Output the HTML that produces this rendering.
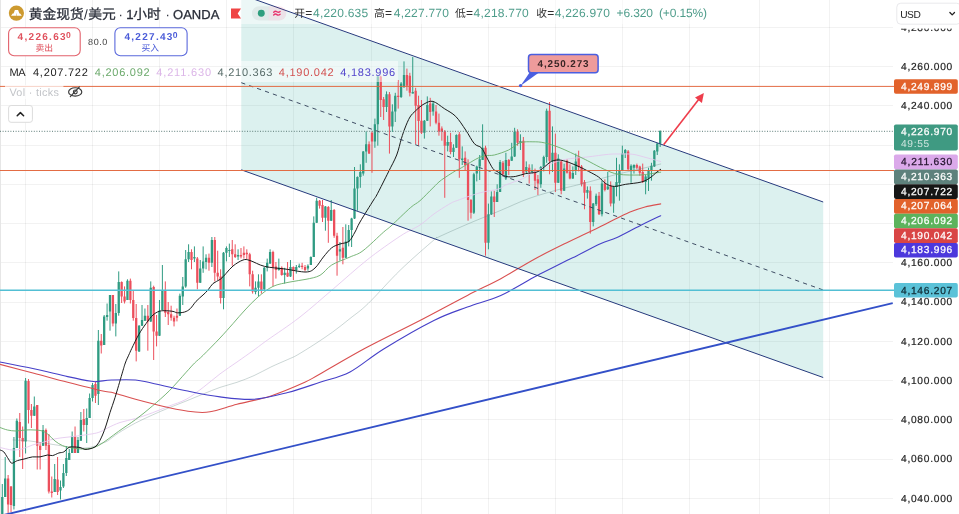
<!DOCTYPE html><html><head><meta charset="utf-8"><title>chart</title>
<style>html,body{margin:0;padding:0;background:#fff;overflow:hidden}svg{display:block;transform:translateZ(0);will-change:transform}text{font-family:"Liberation Sans", "Noto Sans CJK SC", sans-serif;text-rendering:geometricPrecision;}</style></head><body>
<svg width="959" height="514" viewBox="0 0 959 514">
<rect width="959" height="514" fill="#fff"/>
<g stroke="#000" stroke-opacity="0.05" stroke-width="1" shape-rendering="crispEdges">
<line x1="25.6" y1="0" x2="25.6" y2="514"/>
<line x1="92.6" y1="0" x2="92.6" y2="514"/>
<line x1="159.7" y1="0" x2="159.7" y2="514"/>
<line x1="226.6" y1="0" x2="226.6" y2="514"/>
<line x1="293.8" y1="0" x2="293.8" y2="514"/>
<line x1="371.7" y1="0" x2="371.7" y2="514"/>
<line x1="421.6" y1="0" x2="421.6" y2="514"/>
<line x1="488.7" y1="0" x2="488.7" y2="514"/>
<line x1="555.8" y1="0" x2="555.8" y2="514"/>
<line x1="622.7" y1="0" x2="622.7" y2="514"/>
<line x1="689.6" y1="0" x2="689.6" y2="514"/>
<line x1="759" y1="0" x2="759" y2="514"/>
<line x1="829.2" y1="0" x2="829.2" y2="514"/>
<line x1="0" y1="498.4" x2="893" y2="498.4"/>
<line x1="0" y1="459.1" x2="893" y2="459.1"/>
<line x1="0" y1="419.9" x2="893" y2="419.9"/>
<line x1="0" y1="380.6" x2="893" y2="380.6"/>
<line x1="0" y1="341.4" x2="893" y2="341.4"/>
<line x1="0" y1="302.1" x2="893" y2="302.1"/>
<line x1="0" y1="262.9" x2="893" y2="262.9"/>
<line x1="0" y1="223.6" x2="893" y2="223.6"/>
<line x1="0" y1="184.4" x2="893" y2="184.4"/>
<line x1="0" y1="145.1" x2="893" y2="145.1"/>
<line x1="0" y1="105.9" x2="893" y2="105.9"/>
<line x1="0" y1="66.6" x2="893" y2="66.6"/>
<line x1="0" y1="27.4" x2="893" y2="27.4"/>
</g>
<rect x="0" y="0" width="1" height="514" fill="#e6e6e6"/>
<polygon points="241.25,0 255,0 823.2,202.0 823.2,377.5 241.25,169.8" fill="#26a69a" fill-opacity="0.16"/>
<path d="M2.29,484.0V514.0M5.20,457.0V497.0M13.93,437.0V509.5M16.84,418.5V448.0M25.58,378.0V453.5M34.31,396.5V416.0M43.04,425.0V446.0M54.69,464.0V492.0M60.51,480.5V499.5M63.42,464.0V488.0M66.33,446.0V476.0M69.24,449.0V460.0M72.15,431.5V453.0M77.98,437.0V453.0M80.89,412.0V440.7M86.71,408.5V443.0M89.62,393.5V418.0M92.53,383.0V401.5M98.35,330.0V405.0M104.17,315.0V345.0M107.09,303.5V320.7M110.00,295.0V330.7M115.82,304.0V336.4M118.73,271.4V315.7M127.46,279.3V300.0M139.11,325.0V352.0M142.02,305.0V326.0M144.93,308.5V321.0M150.75,281.4V322.0M159.48,300.0V336.0M162.39,265.0V310.0M179.86,293.6V316.0M182.77,277.0V305.0M185.68,250.0V287.8M188.59,244.3V262.0M194.41,246.4V262.0M200.24,260.0V283.0M203.15,246.4V272.8M206.06,254.3V269.3M211.88,237.0V267.0M223.52,252.0V309.3M226.44,246.4V261.4M229.35,243.6V257.0M238.08,249.3V260.0M255.55,281.4V294.3M258.46,274.3V296.4M264.28,267.0V290.0M267.19,258.6V271.4M270.10,249.3V264.0M278.83,258.6V270.7M284.66,267.8V283.6M290.48,260.0V277.0M296.30,265.0V273.6M299.21,263.6V268.0M307.94,264.3V270.7M310.86,256.4V265.0M313.77,216.4V257.0M316.68,197.8V223.0M325.41,206.0V230.7M331.23,200.0V221.0M339.96,242.0V260.7M345.79,224.3V258.0M348.70,225.0V246.4M351.61,217.8V247.0M354.52,167.0V219.0M357.43,176.4V210.7M360.34,164.3V187.8M363.25,151.0V175.7M366.16,131.4V162.8M374.90,118.6V147.8M377.81,76.0V145.7M386.54,91.4V112.0M392.36,104.3V132.0M395.27,92.8V122.0M401.10,82.0V98.0M404.01,61.4V88.0M412.74,57.0V93.6M424.38,120.0V138.6M427.30,96.4V121.0M433.12,101.4V115.7M447.67,135.7V151.4M453.49,144.3V157.0M456.40,134.3V148.0M462.23,146.4V165.0M473.87,172.8V214.0M476.78,165.7V181.4M479.69,155.0V180.0M482.60,124.3V160.0M488.43,203.6V249.3M491.34,191.4V215.0M497.16,184.3V202.0M500.07,160.0V192.0M505.89,152.8V180.0M511.71,142.8V161.0M514.62,127.8V157.0M520.45,134.3V150.0M526.27,161.4V173.0M532.09,164.3V173.6M540.82,166.0V187.8M543.74,155.7V171.4M546.65,108.6V162.8M552.47,126.4V172.0M558.29,154.3V183.0M564.11,163.6V191.0M572.85,166.4V179.0M575.76,153.6V175.0M587.40,186.4V198.6M593.22,203.0V226.4M596.13,193.6V206.0M601.96,180.5V216.4M607.78,172.0V190.0M613.60,186.0V212.8M616.51,157.8V196.4M619.42,164.3V200.7M622.33,145.7V171.0M625.24,149.0V158.0M631.07,164.3V182.8M633.98,164.3V173.6M645.62,175.0V194.3M648.53,167.8V191.0M651.44,162.8V180.7M654.35,150.0V167.0M657.26,143.0V155.0M660.18,130.7V147.0" stroke="#2f9b82" stroke-width="1" fill="none"/>
<path d="M8.11,475.0V513.0M11.02,486.0V512.0M19.75,413.0V457.0M22.67,426.5V469.0M28.49,379.0V423.5M31.40,404.0V428.0M37.22,405.0V469.5M40.13,442.0V469.5M45.95,428.5V450.0M48.87,434.0V493.5M51.78,476.5V497.5M57.60,457.0V495.0M75.06,426.5V453.0M83.80,409.0V431.5M95.44,381.5V403.0M101.26,334.0V353.5M112.91,295.0V326.4M121.64,281.4V303.0M124.55,286.4V303.5M130.37,278.6V303.5M133.28,290.0V320.7M136.19,304.0V361.4M147.84,305.0V350.7M153.66,285.7V360.0M156.57,315.0V346.4M165.30,281.4V317.0M168.22,302.0V325.0M171.13,305.7V320.7M174.04,315.7V326.4M176.95,308.5V321.4M191.50,249.3V269.3M197.33,257.0V289.3M208.97,253.6V270.7M214.79,237.0V281.4M217.70,250.7V280.0M220.61,269.3V303.5M232.26,240.0V265.7M235.17,244.3V258.0M240.99,248.0V258.4M243.90,246.4V258.6M246.81,249.3V259.3M249.72,252.8V286.4M252.63,270.7V293.6M261.37,274.3V293.6M273.01,250.7V286.4M275.92,262.0V278.6M281.75,266.4V275.7M287.57,262.0V277.0M293.39,266.4V280.0M302.12,262.8V269.3M305.03,265.0V271.4M319.59,200.0V208.6M322.50,200.0V222.0M328.32,206.0V242.8M334.14,209.0V237.8M337.05,232.8V275.7M342.88,227.0V264.3M369.07,141.4V154.0M371.99,131.4V172.8M380.72,75.7V117.0M383.63,97.0V120.0M389.45,92.0V153.6M398.19,80.0V108.6M406.92,68.6V90.7M409.83,72.8V96.4M415.65,87.8V144.3M418.56,95.7V145.7M421.47,100.0V134.0M430.21,97.8V126.4M436.03,105.0V124.3M438.94,113.6V135.7M441.85,126.4V140.7M444.76,130.0V197.8M450.58,132.8V154.3M459.32,132.0V177.8M465.14,151.4V170.0M468.05,159.3V220.7M470.96,199.0V218.6M485.51,145.7V255.7M494.25,190.7V217.0M502.98,161.0V176.4M508.80,159.0V175.0M517.54,129.3V145.7M523.36,137.0V177.0M529.18,164.3V183.6M535.00,168.6V190.0M537.91,175.0V195.0M549.56,102.0V174.3M555.38,133.6V192.0M561.20,160.0V194.3M567.02,159.3V173.6M569.93,164.3V179.3M578.67,150.7V171.4M581.58,165.0V186.4M584.49,180.0V209.3M590.31,186.4V233.6M599.04,192.0V215.0M604.87,179.3V191.4M610.69,181.4V206.4M628.15,150.0V170.0M636.89,163.6V169.3M639.80,165.7V175.7M642.71,163.6V183.0" stroke="#ec4f5c" stroke-width="1" fill="none"/>
<path d="M1.14,497.0h2.3V514.0h-2.3zM4.05,478.5h2.3V497.0h-2.3zM12.78,448.0h2.3V506.0h-2.3zM15.69,420.7h2.3V448.0h-2.3zM24.43,380.7h2.3V441.5h-2.3zM33.16,406.5h2.3V415.7h-2.3zM41.89,430.0h2.3V445.7h-2.3zM53.54,479.0h2.3V492.0h-2.3zM59.36,487.0h2.3V490.5h-2.3zM62.27,473.0h2.3V486.5h-2.3zM65.18,458.0h2.3V473.0h-2.3zM68.09,453.0h2.3V460.0h-2.3zM71.00,436.5h2.3V453.0h-2.3zM76.83,440.0h2.3V453.0h-2.3zM79.74,420.0h2.3V440.7h-2.3zM85.56,418.0h2.3V425.0h-2.3zM88.47,398.0h2.3V418.0h-2.3zM91.38,385.0h2.3V398.0h-2.3zM97.20,340.7h2.3V394.0h-2.3zM103.02,316.4h2.3V345.0h-2.3zM105.94,315.0h2.3V317.0h-2.3zM108.85,295.0h2.3V311.4h-2.3zM114.67,313.0h2.3V323.5h-2.3zM117.58,282.0h2.3V313.0h-2.3zM126.31,280.7h2.3V300.0h-2.3zM137.96,325.7h2.3V351.4h-2.3zM140.87,320.0h2.3V325.7h-2.3zM143.78,315.7h2.3V320.7h-2.3zM149.60,287.8h2.3V321.4h-2.3zM158.33,310.7h2.3V335.7h-2.3zM161.24,290.0h2.3V310.0h-2.3zM178.71,295.7h2.3V315.7h-2.3zM181.62,286.4h2.3V296.4h-2.3zM184.53,259.3h2.3V286.4h-2.3zM187.44,252.0h2.3V259.3h-2.3zM193.26,257.0h2.3V258.6h-2.3zM199.09,268.6h2.3V282.8h-2.3zM202.00,261.4h2.3V268.6h-2.3zM204.91,257.8h2.3V262.0h-2.3zM210.73,240.0h2.3V262.8h-2.3zM222.37,252.8h2.3V298.0h-2.3zM225.29,248.0h2.3V252.8h-2.3zM228.20,250.0h2.3V251.0h-2.3zM236.93,255.0h2.3V256.4h-2.3zM254.40,287.8h2.3V292.0h-2.3zM257.31,281.4h2.3V287.8h-2.3zM263.13,267.8h2.3V289.3h-2.3zM266.04,262.8h2.3V267.8h-2.3zM268.95,252.0h2.3V263.6h-2.3zM277.68,267.8h2.3V270.0h-2.3zM283.51,272.8h2.3V275.0h-2.3zM289.33,267.0h2.3V276.4h-2.3zM295.15,267.0h2.3V270.0h-2.3zM298.06,265.7h2.3V267.0h-2.3zM306.79,265.7h2.3V268.6h-2.3zM309.71,257.0h2.3V265.0h-2.3zM312.62,222.8h2.3V257.0h-2.3zM315.53,200.7h2.3V222.8h-2.3zM324.26,206.4h2.3V217.8h-2.3zM330.08,210.0h2.3V220.7h-2.3zM338.81,249.3h2.3V251.4h-2.3zM344.64,241.4h2.3V257.8h-2.3zM347.55,230.0h2.3V242.0h-2.3zM350.46,218.6h2.3V230.0h-2.3zM353.37,188.6h2.3V218.6h-2.3zM356.28,177.0h2.3V188.6h-2.3zM359.19,172.0h2.3V177.0h-2.3zM362.10,151.4h2.3V173.6h-2.3zM365.01,144.3h2.3V151.4h-2.3zM373.75,124.3h2.3V141.4h-2.3zM376.66,76.4h2.3V124.3h-2.3zM385.39,94.3h2.3V107.0h-2.3zM391.21,111.4h2.3V126.4h-2.3zM394.12,95.7h2.3V111.4h-2.3zM399.95,83.6h2.3V97.0h-2.3zM402.86,75.0h2.3V87.0h-2.3zM411.59,92.0h2.3V93.6h-2.3zM423.23,120.7h2.3V132.8h-2.3zM426.15,105.0h2.3V120.7h-2.3zM431.97,103.6h2.3V111.4h-2.3zM446.52,142.0h2.3V145.7h-2.3zM452.34,147.8h2.3V152.0h-2.3zM455.25,135.0h2.3V147.8h-2.3zM461.08,158.6h2.3V160.0h-2.3zM472.72,174.3h2.3V212.8h-2.3zM475.63,166.4h2.3V173.6h-2.3zM478.54,159.3h2.3V166.4h-2.3zM481.45,147.8h2.3V160.0h-2.3zM487.28,214.3h2.3V242.8h-2.3zM490.19,196.4h2.3V214.3h-2.3zM496.01,192.0h2.3V202.0h-2.3zM498.92,162.0h2.3V192.0h-2.3zM504.74,160.0h2.3V178.6h-2.3zM510.56,156.4h2.3V160.7h-2.3zM513.48,132.0h2.3V156.4h-2.3zM519.30,141.0h2.3V142.8h-2.3zM525.12,167.0h2.3V171.4h-2.3zM530.94,170.0h2.3V172.0h-2.3zM539.67,167.0h2.3V184.3h-2.3zM542.59,157.0h2.3V167.0h-2.3zM545.50,110.7h2.3V157.0h-2.3zM551.32,152.8h2.3V161.4h-2.3zM557.14,158.6h2.3V182.8h-2.3zM562.96,168.6h2.3V190.7h-2.3zM571.70,173.0h2.3V178.6h-2.3zM574.61,161.4h2.3V170.7h-2.3zM586.25,190.0h2.3V192.8h-2.3zM592.07,203.6h2.3V222.0h-2.3zM594.98,195.7h2.3V204.3h-2.3zM600.81,183.6h2.3V214.3h-2.3zM606.63,186.4h2.3V189.3h-2.3zM612.45,186.4h2.3V203.6h-2.3zM615.36,182.0h2.3V187.0h-2.3zM618.27,170.7h2.3V183.0h-2.3zM621.18,153.6h2.3V170.7h-2.3zM624.09,150.0h2.3V153.6h-2.3zM629.92,165.7h2.3V170.7h-2.3zM632.83,165.0h2.3V167.8h-2.3zM644.47,176.4h2.3V182.0h-2.3zM647.38,170.0h2.3V178.6h-2.3zM650.29,165.7h2.3V170.7h-2.3zM653.20,150.7h2.3V166.4h-2.3zM656.11,143.6h2.3V151.4h-2.3zM659.03,130.7h2.3V143.6h-2.3z" fill="#2f9b82"/>
<path d="M6.96,478.5h2.3V504.5h-2.3zM9.87,486.5h2.3V505.0h-2.3zM18.61,422.0h2.3V438.0h-2.3zM21.52,438.0h2.3V441.5h-2.3zM27.34,381.0h2.3V410.0h-2.3zM30.25,410.0h2.3V415.7h-2.3zM36.07,405.0h2.3V445.7h-2.3zM38.98,445.7h2.3V450.0h-2.3zM44.80,430.0h2.3V445.7h-2.3zM47.72,445.0h2.3V491.5h-2.3zM50.63,491.5h2.3V493.0h-2.3zM56.45,479.5h2.3V492.0h-2.3zM73.91,436.5h2.3V453.0h-2.3zM82.65,419.0h2.3V425.0h-2.3zM94.29,384.0h2.3V395.7h-2.3zM100.11,340.7h2.3V345.5h-2.3zM111.76,295.0h2.3V323.5h-2.3zM120.49,282.0h2.3V296.4h-2.3zM123.40,296.4h2.3V301.4h-2.3zM129.22,280.7h2.3V300.0h-2.3zM132.13,300.0h2.3V318.0h-2.3zM135.04,318.0h2.3V350.7h-2.3zM146.69,315.7h2.3V321.4h-2.3zM152.51,287.0h2.3V331.4h-2.3zM155.42,331.4h2.3V335.7h-2.3zM164.15,290.0h2.3V312.8h-2.3zM167.07,312.0h2.3V314.3h-2.3zM169.98,314.3h2.3V317.8h-2.3zM172.89,317.8h2.3V321.4h-2.3zM175.80,315.7h2.3V317.8h-2.3zM190.35,252.0h2.3V260.0h-2.3zM196.18,258.6h2.3V282.8h-2.3zM207.82,257.8h2.3V262.8h-2.3zM213.64,240.0h2.3V272.8h-2.3zM216.55,272.8h2.3V276.4h-2.3zM219.46,276.4h2.3V298.0h-2.3zM231.11,249.3h2.3V254.3h-2.3zM234.02,254.3h2.3V257.0h-2.3zM239.84,255.0h2.3V256.6h-2.3zM242.75,252.8h2.3V255.0h-2.3zM245.66,252.8h2.3V254.3h-2.3zM248.57,254.3h2.3V274.3h-2.3zM251.48,274.3h2.3V291.4h-2.3zM260.22,281.4h2.3V290.0h-2.3zM271.86,252.0h2.3V267.0h-2.3zM274.77,266.4h2.3V270.0h-2.3zM280.60,267.8h2.3V275.0h-2.3zM286.42,272.8h2.3V276.4h-2.3zM292.24,267.0h2.3V270.7h-2.3zM300.97,265.7h2.3V267.0h-2.3zM303.88,267.0h2.3V270.0h-2.3zM318.44,200.7h2.3V205.7h-2.3zM321.35,205.0h2.3V217.8h-2.3zM327.17,207.0h2.3V220.7h-2.3zM332.99,210.0h2.3V235.7h-2.3zM335.90,235.7h2.3V255.7h-2.3zM341.73,247.8h2.3V257.8h-2.3zM367.93,144.3h2.3V153.6h-2.3zM370.84,132.8h2.3V141.4h-2.3zM379.57,76.4h2.3V100.0h-2.3zM382.48,99.3h2.3V107.0h-2.3zM388.30,94.3h2.3V126.4h-2.3zM397.04,95.7h2.3V97.0h-2.3zM405.77,75.0h2.3V85.7h-2.3zM408.68,75.7h2.3V92.8h-2.3zM414.50,90.7h2.3V105.7h-2.3zM417.41,105.0h2.3V121.0h-2.3zM420.32,120.7h2.3V132.8h-2.3zM429.06,103.6h2.3V112.0h-2.3zM434.88,111.4h2.3V122.8h-2.3zM437.79,122.8h2.3V131.4h-2.3zM440.70,128.6h2.3V131.4h-2.3zM443.61,131.4h2.3V145.7h-2.3zM449.43,142.0h2.3V152.0h-2.3zM458.17,134.3h2.3V159.3h-2.3zM463.99,157.8h2.3V165.0h-2.3zM466.90,163.6h2.3V200.0h-2.3zM469.81,200.0h2.3V212.8h-2.3zM484.37,147.8h2.3V242.8h-2.3zM493.10,196.4h2.3V202.0h-2.3zM501.83,162.8h2.3V174.3h-2.3zM507.65,160.0h2.3V166.0h-2.3zM516.39,131.4h2.3V142.8h-2.3zM522.21,140.7h2.3V173.6h-2.3zM528.03,167.8h2.3V172.0h-2.3zM533.85,170.7h2.3V180.7h-2.3zM536.76,179.3h2.3V183.6h-2.3zM548.41,110.7h2.3V160.7h-2.3zM554.23,152.8h2.3V182.8h-2.3zM560.05,161.4h2.3V190.7h-2.3zM565.87,160.7h2.3V172.8h-2.3zM568.78,171.4h2.3V178.6h-2.3zM577.52,156.4h2.3V167.0h-2.3zM580.43,166.4h2.3V184.3h-2.3zM583.34,182.0h2.3V192.8h-2.3zM589.16,190.7h2.3V222.0h-2.3zM597.89,195.7h2.3V214.3h-2.3zM603.72,183.6h2.3V190.0h-2.3zM609.54,185.7h2.3V203.6h-2.3zM627.00,151.4h2.3V169.3h-2.3zM635.74,165.0h2.3V167.8h-2.3zM638.65,166.4h2.3V172.8h-2.3zM641.56,172.0h2.3V182.0h-2.3z" fill="#ec4f5c"/>
<path d="M13.0,440.0C15.8,440.2 23.8,440.3 30.0,441.0C36.2,441.7 43.3,443.0 50.0,444.0C56.7,445.0 64.2,446.3 70.0,447.0C75.8,447.7 80.8,448.2 85.0,448.0C89.2,447.8 92.2,446.8 95.0,446.0C97.8,445.2 99.5,444.1 101.6,443.3C103.7,442.5 104.7,442.7 107.5,441.0C110.3,439.3 113.8,436.0 118.5,433.0C123.2,430.0 129.8,426.0 135.5,423.0C141.2,420.0 146.8,417.6 152.4,415.0C158.0,412.4 163.7,410.0 169.3,407.7C174.9,405.4 180.5,403.3 186.2,401.0C191.8,398.7 197.6,396.3 203.2,394.0C208.8,391.7 214.4,389.3 220.0,387.4C225.6,385.4 231.3,384.3 237.0,382.3C242.7,380.3 248.3,378.2 254.0,375.6C259.6,373.1 265.3,369.7 270.9,367.0C276.5,364.3 283.4,361.5 287.8,359.5C292.2,357.5 292.8,357.6 297.3,355.0C301.8,352.4 309.1,347.8 315.0,344.0C320.9,340.2 326.9,336.2 332.7,332.0C338.5,327.8 344.1,323.2 350.0,318.5C355.9,313.8 359.8,311.6 368.2,303.5C376.6,295.4 389.4,280.6 400.4,270.0C411.3,259.4 427.5,245.5 433.9,240.0C440.3,234.5 433.1,239.6 438.6,237.0C444.1,234.4 456.8,228.7 467.0,224.3C477.2,219.9 489.7,215.0 500.0,210.7C510.3,206.4 519.1,202.0 528.6,198.6C538.1,195.2 548.4,192.4 557.0,190.0C565.6,187.6 570.0,186.9 580.0,184.3C590.0,181.7 607.0,176.9 617.0,174.3C627.0,171.8 632.7,170.7 640.0,169.0C647.3,167.3 657.2,164.8 660.7,164.0" stroke="#5e817c" stroke-width="0.9" stroke-opacity="0.36" fill="none" stroke-linejoin="round" stroke-linecap="round"/>
<path d="M0.0,447.5C2.1,447.9 8.8,449.8 12.5,450.0C16.2,450.2 19.2,449.6 22.5,448.8C25.8,448.0 29.2,446.1 32.5,445.0C35.8,443.9 39.6,443.3 42.5,442.5C45.4,441.7 47.1,440.8 50.0,440.0C52.9,439.2 56.7,438.5 60.0,438.0C63.3,437.5 66.7,437.3 70.0,436.9C73.3,436.5 76.2,436.1 80.0,435.6C83.8,435.1 89.2,434.4 92.5,433.8C95.8,433.2 97.5,432.9 100.0,431.9C102.5,430.9 104.2,429.6 107.5,428.0C110.8,426.4 115.3,424.1 120.0,422.5C124.7,420.9 130.1,420.2 135.5,418.6C140.9,417.0 146.8,414.9 152.4,412.8C158.0,410.7 163.7,408.2 169.3,406.0C174.9,403.8 180.5,402.4 186.2,399.3C191.8,396.2 197.6,391.6 203.2,387.4C208.8,383.2 214.4,378.1 220.0,373.9C225.6,369.7 231.3,366.0 237.0,362.0C242.7,358.0 248.9,353.7 254.0,350.0C259.1,346.3 259.8,345.5 267.5,340.0C275.2,334.5 289.0,325.6 300.0,317.0C311.0,308.4 322.3,298.2 333.5,288.7C344.7,279.2 355.9,268.8 367.0,260.0C378.1,251.2 391.6,241.8 400.4,236.0C409.2,230.2 414.4,228.7 420.0,225.0C425.6,221.3 429.1,217.4 433.9,214.0C438.7,210.6 444.7,206.8 448.6,204.5C452.5,202.2 452.1,202.4 457.3,200.5C462.5,198.6 473.1,194.7 480.0,192.8C486.9,190.9 494.3,190.3 498.6,189.0C502.9,187.7 501.6,186.7 505.7,185.0C509.8,183.3 519.1,180.3 522.9,178.6C526.7,176.9 526.0,176.4 528.6,175.0C531.2,173.6 535.0,171.8 538.6,170.0C542.2,168.2 545.5,165.8 550.0,164.0C554.5,162.2 559.5,160.5 565.7,159.3C571.9,158.1 579.9,157.8 587.0,157.0C594.1,156.2 603.1,154.8 608.6,154.3C614.1,153.8 616.0,154.0 620.0,154.0C624.0,154.0 628.4,153.7 632.9,154.3C637.4,154.9 642.4,156.6 647.0,157.8C651.6,159.0 658.4,160.9 660.7,161.5" stroke="#e4c8ef" stroke-width="0.85" stroke-opacity="1" fill="none" stroke-linejoin="round" stroke-linecap="round"/>
<path d="M0.0,427.5C1.2,427.9 4.8,429.4 7.5,430.0C10.2,430.6 13.1,431.0 16.0,431.0C18.9,431.0 21.8,430.2 25.0,430.0C28.2,429.8 32.1,429.8 35.0,430.0C37.9,430.2 40.2,430.2 42.5,431.0C44.8,431.8 46.7,433.3 48.8,435.0C50.9,436.7 52.7,439.2 55.0,441.0C57.3,442.8 60.0,444.5 62.5,445.6C65.0,446.7 66.3,446.9 70.0,447.5C73.7,448.1 80.0,449.3 84.7,449.0C89.4,448.7 92.6,448.6 98.2,445.7C103.8,442.8 112.3,435.8 118.5,431.4C124.7,427.0 129.8,423.8 135.5,419.6C141.2,415.4 146.8,410.8 152.4,406.0C158.0,401.2 163.7,396.4 169.3,390.8C174.9,385.2 182.0,376.8 186.2,372.2C190.4,367.6 191.8,365.8 194.6,363.0C197.4,360.2 199.0,359.4 203.2,355.2C207.4,351.0 215.0,343.3 220.0,338.0C225.0,332.7 228.8,328.3 233.0,323.6C237.2,318.9 240.8,314.4 245.0,310.0C249.2,305.6 253.3,300.9 258.0,297.0C262.7,293.1 267.7,288.9 273.0,286.4C278.3,283.9 284.5,283.2 290.0,282.0C295.5,280.8 301.0,280.4 306.0,279.3C311.0,278.2 315.7,277.7 320.0,275.3C324.3,272.9 326.7,268.1 331.7,265.0C336.7,261.9 344.8,259.4 350.0,257.0C355.2,254.6 357.4,254.9 363.0,250.7C368.6,246.5 379.0,236.1 383.7,232.0C388.4,227.9 386.6,230.0 391.0,226.0C395.4,222.0 405.5,212.0 410.3,207.8C415.1,203.6 416.2,204.0 420.0,200.7C423.8,197.4 429.4,191.2 433.0,187.8C436.6,184.4 437.6,182.8 441.4,180.0C445.2,177.2 452.6,172.6 455.7,170.7C458.8,168.8 456.4,170.6 460.0,168.6C463.6,166.6 472.7,160.8 477.0,158.6C481.3,156.4 482.8,156.3 485.7,155.7C488.6,155.1 490.5,155.9 494.3,155.0C498.1,154.1 504.3,152.0 508.6,150.0C512.9,148.0 516.0,144.2 520.0,142.8C524.0,141.4 528.9,141.8 532.9,141.8C536.9,141.8 539.8,141.8 544.3,142.8C548.8,143.8 554.0,145.4 560.0,147.8C566.0,150.2 575.0,154.6 580.0,157.0C585.0,159.4 586.0,159.9 590.0,162.0C594.0,164.1 599.5,167.2 604.3,169.3C609.1,171.4 612.6,173.4 618.6,174.3C624.6,175.2 634.5,175.1 640.0,175.0C645.5,174.9 647.9,174.1 651.4,173.6C654.9,173.1 659.2,172.4 660.7,172.2" stroke="#6aae6a" stroke-width="0.9" stroke-opacity="1" fill="none" stroke-linejoin="round" stroke-linecap="round"/>
<path d="M0.0,364.4C5.6,365.9 22.6,370.2 33.9,373.2C45.2,376.2 56.4,379.4 67.7,382.3C79.0,385.2 93.9,389.0 101.6,390.8C109.3,392.6 108.3,391.6 114.0,393.0C119.7,394.4 126.3,396.9 135.5,399.3C144.7,401.8 159.7,405.6 169.3,407.7C178.9,409.8 186.2,411.1 193.0,411.8C199.8,412.5 202.7,413.1 210.0,411.8C217.3,410.6 226.8,407.0 237.0,404.3C247.2,401.6 259.6,399.6 270.9,395.9C282.2,392.2 296.6,386.0 304.8,382.3C313.0,378.6 309.6,379.7 320.0,373.9C330.4,368.1 350.8,355.9 367.0,347.3C383.2,338.7 400.3,330.6 417.0,322.0C433.7,313.4 453.4,302.6 467.4,295.4C481.4,288.2 489.7,284.7 500.8,278.7C511.9,272.7 523.1,265.3 534.3,259.2C545.5,253.1 559.3,246.4 567.8,242.2C576.2,238.0 579.5,236.7 585.0,234.0C590.5,231.3 595.7,228.9 601.0,226.3C606.3,223.7 611.9,220.6 617.0,218.2C622.1,215.8 626.7,213.5 631.4,211.6C636.1,209.7 640.1,208.3 645.0,207.0C649.9,205.7 658.1,204.4 660.7,203.9" stroke="#d95050" stroke-width="1.1" stroke-opacity="1" fill="none" stroke-linejoin="round" stroke-linecap="round"/>
<path d="M0.0,362.0C5.6,363.1 22.6,366.4 33.9,368.8C45.2,371.2 58.1,374.5 67.7,376.6C77.3,378.7 86.3,380.5 91.4,381.3C96.5,382.1 95.1,381.6 98.5,381.4C101.9,381.2 105.5,380.2 111.7,380.0C117.9,379.8 128.7,379.4 135.5,380.0C142.3,380.6 144.0,381.5 152.4,383.3C160.8,385.1 174.9,388.5 186.2,390.8C197.5,393.1 208.7,395.5 220.0,396.9C231.3,398.3 242.7,400.0 254.0,399.3C265.3,398.6 276.8,395.3 287.8,392.5C298.8,389.7 309.6,385.7 320.0,382.3C330.4,378.9 339.4,377.6 350.0,372.0C360.6,366.4 369.7,357.6 383.7,349.0C397.7,340.4 419.9,327.5 433.9,320.5C447.8,313.5 456.2,311.2 467.4,307.0C478.5,302.8 489.7,300.4 500.8,295.4C511.9,290.4 527.4,280.7 534.3,277.0C541.2,273.3 536.4,275.8 542.0,273.0C547.6,270.2 562.0,262.9 567.8,260.0C573.6,257.1 571.5,258.4 577.0,255.7C582.5,252.9 594.3,246.5 601.0,243.5C607.7,240.5 610.5,240.5 617.0,237.5C623.5,234.5 632.7,229.3 640.0,225.7C647.3,222.1 657.2,217.4 660.7,215.7" stroke="#4640c8" stroke-width="1.1" stroke-opacity="1" fill="none" stroke-linejoin="round" stroke-linecap="round"/>
<path d="M0.0,450.0C0.6,450.3 2.5,450.6 3.8,451.9C5.0,453.1 6.2,455.6 7.5,457.5C8.8,459.4 10.2,462.2 11.2,463.0C12.3,463.8 12.7,462.9 13.8,462.5C14.8,462.1 15.6,461.2 17.5,460.6C19.4,460.0 22.5,459.4 25.0,458.8C27.5,458.1 30.0,457.2 32.5,456.9C35.0,456.6 37.5,457.2 40.0,456.9C42.5,456.6 45.4,455.2 47.5,455.0C49.6,454.8 50.6,455.9 52.5,455.6C54.4,455.3 56.9,453.6 58.8,453.0C60.6,452.4 62.1,452.8 63.8,451.9C65.4,451.0 67.3,448.3 68.8,447.5C70.2,446.7 70.6,446.9 72.5,446.9C74.4,446.9 77.9,447.1 80.0,447.5C82.1,447.9 83.3,449.2 85.0,449.4C86.7,449.6 88.3,449.2 90.0,448.8C91.7,448.3 93.5,447.9 95.0,446.9C96.5,445.9 97.5,444.5 98.8,442.5C100.0,440.5 101.2,437.9 102.5,435.0C103.8,432.1 105.0,428.8 106.2,425.0C107.5,421.2 108.5,417.1 110.0,412.5C111.5,407.9 113.0,404.0 115.0,397.6C117.0,391.2 120.3,379.7 122.0,373.9C123.7,368.1 124.2,366.1 125.3,363.0C126.4,359.9 127.6,357.6 128.7,355.2C129.8,352.8 130.0,352.1 131.7,348.6C133.4,345.1 136.5,338.5 138.9,334.3C141.3,330.1 143.7,326.8 146.0,323.6C148.3,320.4 150.8,317.0 153.0,315.0C155.2,313.0 157.0,312.1 158.9,311.4C160.8,310.7 162.2,310.7 164.6,310.7C166.9,310.7 170.9,311.0 173.0,311.4C175.1,311.8 175.5,312.7 177.4,312.8C179.3,312.9 182.4,312.7 184.6,312.0C186.8,311.3 188.4,310.4 190.3,308.6C192.2,306.8 193.9,303.7 196.0,301.4C198.1,299.1 201.0,296.9 203.0,295.0C205.0,293.1 206.3,291.9 208.0,290.0C209.7,288.1 210.9,285.3 213.0,283.5C215.1,281.7 218.1,281.0 220.3,279.3C222.5,277.6 223.9,275.7 226.0,273.5C228.1,271.3 230.2,268.2 233.0,266.0C235.8,263.8 240.2,260.9 243.0,260.0C245.8,259.1 246.4,259.4 250.0,260.5C253.6,261.6 258.8,265.0 264.6,266.4C270.4,267.8 278.1,268.1 285.0,269.0C291.9,269.9 301.0,272.2 306.0,272.0C311.0,271.8 312.1,270.5 315.0,268.0C317.9,265.5 320.6,260.4 323.4,257.0C326.2,253.6 328.9,250.0 331.7,247.8C334.5,245.6 337.1,245.1 340.0,244.0C342.9,242.9 346.4,243.4 348.9,241.4C351.4,239.4 353.1,235.2 355.0,232.0C356.9,228.8 356.9,227.3 360.0,222.0C363.1,216.7 370.9,204.3 373.6,200.0C376.3,195.7 374.4,199.2 376.0,196.4C377.6,193.6 380.8,187.2 382.9,183.0C385.0,178.8 386.6,175.7 388.9,171.0C391.2,166.3 394.6,160.4 396.7,155.0C398.8,149.6 400.0,143.1 401.4,138.6C402.8,134.1 403.6,131.6 405.0,128.0C406.4,124.4 408.2,119.9 410.0,117.0C411.8,114.1 413.4,112.9 415.7,110.7C418.0,108.5 421.1,105.5 424.0,104.0C426.9,102.5 429.5,100.6 432.9,101.4C436.3,102.2 440.5,106.1 444.3,108.6C448.1,111.1 452.1,112.8 455.7,116.4C459.3,120.0 462.6,125.5 465.7,130.0C468.8,134.5 471.7,140.6 474.3,143.6C476.9,146.6 479.4,145.6 481.4,147.8C483.4,150.0 484.6,153.5 486.5,157.0C488.4,160.5 491.1,166.2 492.9,168.6C494.6,171.0 494.9,170.1 497.0,171.4C499.1,172.7 502.6,175.6 505.7,176.4C508.8,177.2 512.4,176.9 515.7,176.4C519.0,175.9 522.2,174.3 525.7,173.6C529.2,172.9 533.9,173.1 537.0,172.0C540.1,170.9 541.9,168.8 544.3,167.0C546.7,165.2 549.0,162.6 551.4,161.4C553.8,160.2 556.2,160.0 558.6,160.0C561.0,160.0 562.6,160.5 565.7,161.4C568.8,162.3 573.2,164.0 577.0,165.7C580.8,167.4 585.0,169.5 588.6,171.4C592.2,173.3 595.8,175.0 598.6,177.0C601.5,179.0 603.1,182.0 605.7,183.6C608.3,185.2 611.0,186.3 614.3,186.4C617.6,186.5 621.2,185.0 625.7,184.3C630.2,183.6 637.4,183.1 641.4,182.0C645.4,180.9 647.4,179.5 650.0,177.8C652.6,176.1 655.2,173.4 657.0,172.0C658.8,170.6 660.1,169.8 660.7,169.3" stroke="#161616" stroke-width="0.98" stroke-opacity="1" fill="none" stroke-linejoin="round" stroke-linecap="round"/>
<rect x="241" y="0" width="480" height="24" fill="#fff" fill-opacity="0.45"/>
<rect x="241" y="61" width="157" height="21" fill="#fff" fill-opacity="0.5"/>
<line x1="241.25" y1="-5.4" x2="823.2" y2="202.0" stroke="#25397c" stroke-width="1.0"/>
<line x1="241.25" y1="169.8" x2="823.2" y2="377.5" stroke="#25397c" stroke-width="1.0"/>
<line x1="241.25" y1="82.7" x2="823.2" y2="290.0" stroke="#36435c" stroke-width="0.95" stroke-dasharray="4.2 4.2"/>
<line x1="0" y1="86.4" x2="894" y2="86.4" stroke="#e2643a" stroke-width="0.95"/>
<line x1="0" y1="170.5" x2="894" y2="170.5" stroke="#e2643a" stroke-width="0.95"/>
<line x1="0" y1="290.3" x2="894" y2="290.3" stroke="#52bfd4" stroke-width="1.5"/>
<line x1="0" y1="131.3" x2="894" y2="131.3" stroke="#5b7a76" stroke-width="1" stroke-dasharray="1 1.6"/>
<rect x="5" y="85" width="58.4" height="14" fill="#fff" fill-opacity="0.7"/>
<line x1="0" y1="515.9" x2="892.75" y2="303.1" stroke="#3350c8" stroke-width="1.9"/>
<line x1="663.6" y1="144.8" x2="700" y2="97.8" stroke="#ee3d4b" stroke-width="1.6"/>
<polygon points="703.9,92.9 701.9,102.9 695.0,97.6" fill="#ee3d4b"/>
<polygon points="529.6,72.5 539,72.5 520.6,85.8" fill="#4b5fe0"/>
<circle cx="520.6" cy="85.6" r="1.7" fill="#4b5fe0"/>
<rect x="528.5" y="54.4" width="69.6" height="18.3" rx="3" fill="#ee9b9b" stroke="#4b5fe0" stroke-width="1.5"/>
<text x="537.6" y="67.0" font-size="9.9" fill="#3b2626" font-weight="bold" text-anchor="start" textLength="51" lengthAdjust="spacing">4,250.273</text>
<circle cx="16.4" cy="13.1" r="7.6" fill="#cd9a30"/>
<path d="M14.9,10h3.2l1.3,3.4h-5.8zM12.7,13.4h3.5v2.3h-5.2zM16.6,13.4h3.5l1.7,2.3h-5.2z" fill="#fff"/>
<text x="28.8" y="18.6" font-size="13.75" fill="#2a2e39" font-weight="normal" text-anchor="start" textLength="55" lengthAdjust="spacing" stroke="#2a2e39" stroke-width="0.28">黄金现货</text>
<text x="83.9" y="18.7" font-size="13.5" fill="#2a2e39" font-weight="normal" text-anchor="start">/</text>
<text x="88.2" y="18.6" font-size="13.75" fill="#2a2e39" font-weight="normal" text-anchor="start" textLength="27.5" lengthAdjust="spacing" stroke="#2a2e39" stroke-width="0.28">美元</text>
<text x="118.6" y="18.7" font-size="13" fill="#2a2e39" font-weight="normal" text-anchor="start">·</text>
<text x="126.2" y="18.7" font-size="13.2" fill="#2a2e39" font-weight="normal" text-anchor="start" stroke="#2a2e39" stroke-width="0.3">1</text>
<text x="133.2" y="18.6" font-size="13.75" fill="#2a2e39" font-weight="normal" text-anchor="start" textLength="27.5" lengthAdjust="spacing" stroke="#2a2e39" stroke-width="0.28">小时</text>
<text x="165.5" y="18.7" font-size="13" fill="#2a2e39" font-weight="normal" text-anchor="start">·</text>
<text x="173" y="18.7" font-size="13" fill="#2a2e39" font-weight="normal" text-anchor="start" textLength="46.4" lengthAdjust="spacing" stroke="#2a2e39" stroke-width="0.3">OANDA</text>
<path d="M231,8.5h10l-3.3,5l3.3,5h-10z" fill="#ef4444"/>
<path d="M259.1,6.2h9.6v14.4h-9.6a7.2,7.2 0 0 1 0,-14.4z" fill="#000" fill-opacity="0.05"/>
<path d="M268.7,6.2h10.4a7.2,7.2 0 0 1 0,14.4h-10.4z" fill="#e8336d" fill-opacity="0.10"/>
<circle cx="261.3" cy="13.3" r="3.45" fill="#2e9e7e"/>
<path d="M273.7,12.2q1.6,-1.6 3.2,-0.4t3.2,-0.4M273.7,15.0q1.6,-1.6 3.2,-0.4t3.2,-0.4" stroke="#e8336d" stroke-width="1.4" fill="none" stroke-linecap="round"/>
<text x="294.3" y="17.4" font-size="10.8" fill="#2f2f2f" font-weight="normal" text-anchor="start">开</text>
<text x="305.3" y="17.3" font-size="12" fill="#2f2f2f" font-weight="normal" text-anchor="start">=</text>
<text x="313" y="17.3" font-size="12" fill="#4f9d8b" font-weight="normal" text-anchor="start" textLength="55.2" lengthAdjust="spacing">4,220.635</text>
<text x="374" y="17.4" font-size="10.8" fill="#2f2f2f" font-weight="normal" text-anchor="start">高</text>
<text x="385.0" y="17.3" font-size="12" fill="#2f2f2f" font-weight="normal" text-anchor="start">=</text>
<text x="393.75" y="17.3" font-size="12" fill="#4f9d8b" font-weight="normal" text-anchor="start" textLength="55.2" lengthAdjust="spacing">4,227.770</text>
<text x="455" y="17.4" font-size="10.8" fill="#2f2f2f" font-weight="normal" text-anchor="start">低</text>
<text x="466" y="17.3" font-size="12" fill="#2f2f2f" font-weight="normal" text-anchor="start">=</text>
<text x="473.6" y="17.3" font-size="12" fill="#4f9d8b" font-weight="normal" text-anchor="start" textLength="55.2" lengthAdjust="spacing">4,218.770</text>
<text x="536.2" y="17.4" font-size="10.8" fill="#2f2f2f" font-weight="normal" text-anchor="start">收</text>
<text x="547.2" y="17.3" font-size="12" fill="#2f2f2f" font-weight="normal" text-anchor="start">=</text>
<text x="554.7" y="17.3" font-size="12" fill="#4f9d8b" font-weight="normal" text-anchor="start" textLength="55.2" lengthAdjust="spacing">4,226.970</text>
<text x="616.6" y="17.3" font-size="12" fill="#4f9d8b" font-weight="normal" text-anchor="start" textLength="36.4" lengthAdjust="spacing">+6.320</text>
<text x="659" y="17.3" font-size="12" fill="#4f9d8b" font-weight="normal" text-anchor="start" textLength="48" lengthAdjust="spacing">(+0.15%)</text>
<rect x="8.6" y="27.8" width="71.6" height="28" rx="5.5" fill="#fff" stroke="#e2626c" stroke-width="1.1"/>
<text x="17.6" y="40.1" font-size="10" fill="#e0525e" font-weight="bold" text-anchor="start" textLength="48" lengthAdjust="spacing">4,226.63</text>
<text x="66.0" y="38.1" font-size="8.6" fill="#e0525e" font-weight="bold" text-anchor="start">0</text>
<text x="35.5" y="51.4" font-size="8.8" fill="#e0525e" font-weight="normal" text-anchor="start" textLength="17.6" lengthAdjust="spacing">卖出</text>
<text x="88.1" y="45.3" font-size="9" fill="#3c3c3c" font-weight="normal" text-anchor="start" textLength="19.1" lengthAdjust="spacing">80.0</text>
<rect x="114.9" y="27.8" width="72.2" height="28" rx="5.5" fill="#fff" stroke="#5a68dc" stroke-width="1.1"/>
<text x="124.4" y="40.1" font-size="10" fill="#4a5bd8" font-weight="bold" text-anchor="start" textLength="48" lengthAdjust="spacing">4,227.43</text>
<text x="172.8" y="38.1" font-size="8.6" fill="#4a5bd8" font-weight="bold" text-anchor="start">0</text>
<text x="141.4" y="51.4" font-size="8.8" fill="#4a5bd8" font-weight="normal" text-anchor="start" textLength="17.6" lengthAdjust="spacing">买入</text>
<text x="9.4" y="75.9" font-size="11" fill="#222" font-weight="normal" text-anchor="start" textLength="16.2" lengthAdjust="spacing">MA</text>
<text x="33" y="75.9" font-size="11" fill="#222" font-weight="normal" text-anchor="start" textLength="54.8" lengthAdjust="spacing">4,207.722</text>
<text x="94.8" y="75.9" font-size="11" fill="#6daa6d" font-weight="normal" text-anchor="start" textLength="54.8" lengthAdjust="spacing">4,206.092</text>
<text x="156.3" y="75.9" font-size="11" fill="#dcb6e8" font-weight="normal" text-anchor="start" textLength="54.8" lengthAdjust="spacing">4,211.630</text>
<text x="217.6" y="75.9" font-size="11" fill="#586c69" font-weight="normal" text-anchor="start" textLength="54.8" lengthAdjust="spacing">4,210.363</text>
<text x="278.8" y="75.9" font-size="11" fill="#d25151" font-weight="normal" text-anchor="start" textLength="54.8" lengthAdjust="spacing">4,190.042</text>
<text x="340.3" y="75.9" font-size="11" fill="#5345cc" font-weight="normal" text-anchor="start" textLength="54.8" lengthAdjust="spacing">4,183.996</text>
<text x="9.4" y="96" font-size="10.8" fill="#c2c4c8" font-weight="normal" text-anchor="start" textLength="49.4" lengthAdjust="spacing">Vol · ticks</text>
<g stroke="#3a3a3a" stroke-width="1.15" fill="none" stroke-linecap="round"><ellipse cx="75.2" cy="91.9" rx="6.6" ry="4.2"/><circle cx="75.3" cy="91.9" r="1.9"/><path d="M70.3,96.6L79.4,86.9"/></g>
<rect x="8.6" y="105.5" width="23.8" height="16.8" rx="2.5" fill="#fff" stroke="#dcdcdc" stroke-width="1"/>
<path d="M17.2,115.8l3.2,-3.2l3.2,3.2" stroke="#222" stroke-width="1.5" fill="none" stroke-linecap="round" stroke-linejoin="round"/>
<rect x="894" y="0" width="65" height="514" fill="#fff"/>
<text x="901" y="501.5" font-size="10.2" fill="#222222" font-weight="normal" text-anchor="start" textLength="51.2" lengthAdjust="spacing" stroke="#222222" stroke-width="0.2">4,040.000</text>
<text x="901" y="462.3" font-size="10.2" fill="#222222" font-weight="normal" text-anchor="start" textLength="51.2" lengthAdjust="spacing" stroke="#222222" stroke-width="0.2">4,060.000</text>
<text x="901" y="423.0" font-size="10.2" fill="#222222" font-weight="normal" text-anchor="start" textLength="51.2" lengthAdjust="spacing" stroke="#222222" stroke-width="0.2">4,080.000</text>
<text x="901" y="383.8" font-size="10.2" fill="#222222" font-weight="normal" text-anchor="start" textLength="51.2" lengthAdjust="spacing" stroke="#222222" stroke-width="0.2">4,100.000</text>
<text x="901" y="344.5" font-size="10.2" fill="#222222" font-weight="normal" text-anchor="start" textLength="51.2" lengthAdjust="spacing" stroke="#222222" stroke-width="0.2">4,120.000</text>
<text x="901" y="305.3" font-size="10.2" fill="#222222" font-weight="normal" text-anchor="start" textLength="51.2" lengthAdjust="spacing" stroke="#222222" stroke-width="0.2">4,140.000</text>
<text x="901" y="266.0" font-size="10.2" fill="#222222" font-weight="normal" text-anchor="start" textLength="51.2" lengthAdjust="spacing" stroke="#222222" stroke-width="0.2">4,160.000</text>
<text x="901" y="109.0" font-size="10.2" fill="#222222" font-weight="normal" text-anchor="start" textLength="51.2" lengthAdjust="spacing" stroke="#222222" stroke-width="0.2">4,240.000</text>
<text x="901" y="69.8" font-size="10.2" fill="#222222" font-weight="normal" text-anchor="start" textLength="51.2" lengthAdjust="spacing" stroke="#222222" stroke-width="0.2">4,260.000</text>
<text x="901" y="30.5" font-size="10.2" fill="#222222" font-weight="normal" text-anchor="start" textLength="51.2" lengthAdjust="spacing" stroke="#222222" stroke-width="0.2">4,280.000</text>
<rect x="894" y="79.2" width="63.8" height="14.50" rx="1.8" fill="#e2622b"/>
<text x="901" y="89.6" font-size="10.2" fill="#fff" font-weight="normal" text-anchor="start" textLength="51.2" lengthAdjust="spacing" stroke="#fff" stroke-width="0.25">4,249.899</text>
<rect x="894" y="124.4" width="63.8" height="26.20" rx="1.8" fill="#3f9a82"/>
<text x="901" y="134.5" font-size="10.2" fill="#fff" font-weight="normal" text-anchor="start" textLength="51.2" lengthAdjust="spacing" stroke="#fff" stroke-width="0.25">4,226.970</text>
<text x="901" y="146.9" font-size="10.2" fill="#ffffff" font-weight="normal" text-anchor="start" textLength="28.2" lengthAdjust="spacing" fill-opacity="0.75">49:55</text>
<rect x="894" y="154.4" width="63.8" height="15.00" rx="1.8" fill="#dba9ea"/>
<text x="901" y="164.8" font-size="10.2" fill="#24142e" font-weight="normal" text-anchor="start" textLength="51.2" lengthAdjust="spacing" stroke="#24142e" stroke-width="0.25">4,211.630</text>
<rect x="894" y="169.4" width="63.8" height="14.90" rx="1.8" fill="#5e817c"/>
<text x="901" y="179.8" font-size="10.2" fill="#fff" font-weight="normal" text-anchor="start" textLength="51.2" lengthAdjust="spacing" stroke="#fff" stroke-width="0.25">4,210.363</text>
<rect x="894" y="184.3" width="63.8" height="14.60" rx="1.8" fill="#161616"/>
<text x="901" y="194.7" font-size="10.2" fill="#fff" font-weight="normal" text-anchor="start" textLength="51.2" lengthAdjust="spacing" stroke="#fff" stroke-width="0.25">4,207.722</text>
<rect x="894" y="198.9" width="63.8" height="14.80" rx="1.8" fill="#e2622b"/>
<text x="901" y="209.3" font-size="10.2" fill="#fff" font-weight="normal" text-anchor="start" textLength="51.2" lengthAdjust="spacing" stroke="#fff" stroke-width="0.25">4,207.064</text>
<rect x="894" y="213.7" width="63.8" height="14.50" rx="1.8" fill="#5cb35c"/>
<text x="901" y="224.1" font-size="10.2" fill="#fff" font-weight="normal" text-anchor="start" textLength="51.2" lengthAdjust="spacing" stroke="#fff" stroke-width="0.25">4,206.092</text>
<rect x="894" y="228.2" width="63.8" height="14.80" rx="1.8" fill="#d94545"/>
<text x="901" y="238.6" font-size="10.2" fill="#fff" font-weight="normal" text-anchor="start" textLength="51.2" lengthAdjust="spacing" stroke="#fff" stroke-width="0.25">4,190.042</text>
<rect x="894" y="243" width="63.8" height="14.60" rx="1.8" fill="#4c38dc"/>
<text x="901" y="253.4" font-size="10.2" fill="#fff" font-weight="normal" text-anchor="start" textLength="51.2" lengthAdjust="spacing" stroke="#fff" stroke-width="0.25">4,183.996</text>
<rect x="894" y="283.1" width="63.8" height="14.40" rx="1.8" fill="#5bc2d8"/>
<text x="901" y="293.5" font-size="10.2" fill="#0e2a33" font-weight="normal" text-anchor="start" textLength="51.2" lengthAdjust="spacing" stroke="#0e2a33" stroke-width="0.25">4,146.207</text>
<rect x="894" y="0" width="65" height="28.6" fill="#fff"/>
<rect x="896.8" y="3.2" width="64" height="21" rx="4" fill="#fff" stroke="#e9e9ec" stroke-width="1"/>
<text x="900.2" y="17.6" font-size="10.2" fill="#222" font-weight="normal" text-anchor="start" textLength="20.6" lengthAdjust="spacing">USD</text>
<path d="M949.9,12.5l2.3,2.4l2.3,-2.4" stroke="#222" stroke-width="1.3" fill="none" stroke-linecap="round" stroke-linejoin="round"/>
</svg></body></html>
